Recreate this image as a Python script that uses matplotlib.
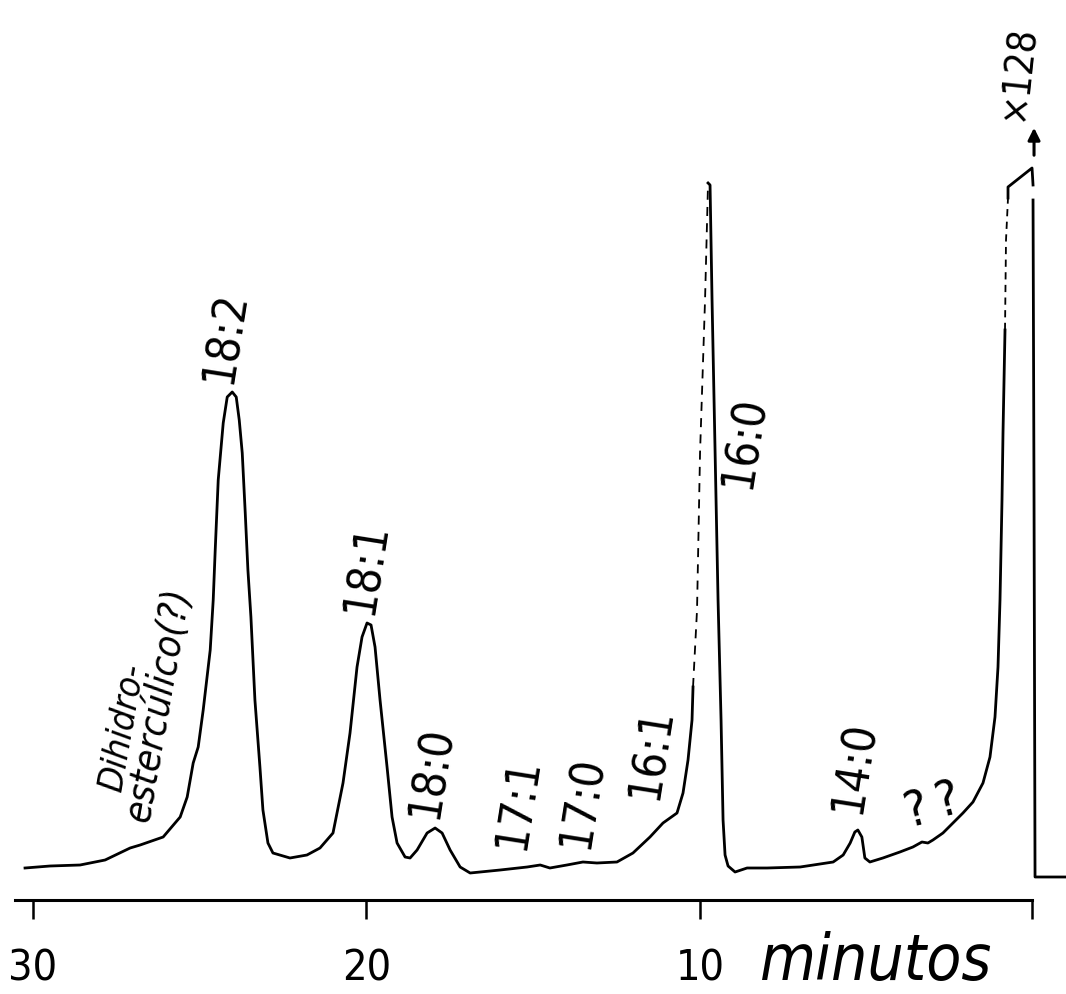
import matplotlib
matplotlib.use("Agg")
import matplotlib.pyplot as plt
from matplotlib import rcParams

# chromatogram trace (minutes, pen height)
time_min = [30.23, 29.48, 28.58, 27.83, 27.08, 26.78, 26.09, 25.58, 25.37, 25.19,
            25.04, 24.89, 24.68, 24.59, 24.53, 24.44, 24.29, 24.17, 24.02, 23.90,
            23.81, 23.72, 23.63, 23.55, 23.46, 23.34, 23.19, 23.10, 22.95, 22.80,
            22.29, 21.78, 21.39, 21.00, 20.70, 20.49, 20.28, 20.13, 19.98, 19.86,
            19.74, 19.59, 19.38, 19.23, 19.08, 18.84, 18.69, 18.48, 18.18, 17.94,
            17.73, 17.49, 17.19, 16.89, 15.99, 15.18, 14.79, 14.50, 13.99, 13.51,
            13.09, 12.49, 12.01, 11.50, 11.11, 10.69, 10.51, 10.36, 10.24, 10.21,
            10.09, 10.00, 9.85, 9.76, 9.70, 9.64, 9.55, 9.46, 9.37, 9.31,
            9.25, 9.16, 8.95, 8.59, 7.99, 7.00, 6.01, 5.71, 5.50, 5.36,
            5.27, 5.15, 5.06, 4.91, 4.52, 4.01, 3.62, 3.35, 3.17, 3.02,
            2.72, 2.42, 2.12, 1.82, 1.52, 1.31, 1.16, 1.07, 1.01, 0.95,
            0.92, 0.86, 0.83, 0.77, 0.77, 0.05, 0.02]
signal = [32, 34, 35, 40, 52, 55, 63, 83, 103, 137,
          153, 190, 250, 300, 350, 420, 477, 503, 508, 503,
          480, 447, 387, 330, 283, 200, 133, 90, 57, 47,
          42, 45, 52, 67, 117, 167, 233, 263, 277, 275,
          253, 200, 133, 83, 57, 43, 42, 50, 67, 72,
          67, 50, 33, 27, 30, 33, 35, 32, 35, 38,
          37, 38, 47, 63, 77, 87, 107, 140, 180, 213,
          290, 447, 600, 717, 715, 600, 450, 300, 180, 80,
          45, 34, 28, 32, 32, 33, 38, 45, 57, 68,
          70, 63, 42, 38, 42, 48, 53, 58, 57, 60,
          67, 77, 87, 98, 117, 143, 183, 233, 300, 400,
          467, 570, 660, 702, 713, 732, 715]

# pen coming back down after the solvent went off scale
return_time = [0.02, -0.01, -0.04, -0.97]
return_signal = [700, 400, 23, 23]

# off-scale arrow (attenuation x128)
arrow_time = [-0.01, -0.01]
arrow_signal = [742, 775]

peak_names = ["18:2", "18:1", "18:0", "17:1", "17:0", "16:1", "16:0", "14:0", "?", "?"]
peak_label_time = [24.20, 19.98, 18.03, 15.45, 13.50, 11.44, 8.65, 5.36, 3.50, 2.57]
peak_label_signal = [563, 332, 128, 97, 98, 147, 458, 133, 90, 100]

tick_values = [30, 20, 10]
tick_labels = ["30", "20", "10"]

rcParams['font.family'] = ['DejaVu Sans']
rcParams['font.stretch'] = 'condensed'

fig = plt.figure(figsize=(10.66, 9.94), dpi=100)
ax = fig.add_axes([0, 0, 1, 1])
ax.set_xlim(30.98, -0.968)
ax.set_ylim(-94, 900)

# trace, fast pen strokes drawn faint/dashed like on the original
ax.plot(time_min[0:70], signal[0:70], color="black", lw=2.0, solid_joinstyle="round")
ax.plot(time_min[69:74], signal[69:74], color="black", lw=1.3, ls=(0, (5, 4)))
ax.plot(time_min[73:112], signal[73:112], color="black", lw=2.0, solid_joinstyle="round")
ax.plot(time_min[111:114], signal[111:114], color="black", lw=1.3, ls=(0, (4, 3)))
ax.plot(time_min[113:], signal[113:], color="black", lw=2.0)
ax.plot(return_time, return_signal, color="black", lw=2.0)
ax.annotate("", xy=(arrow_time[1], arrow_signal[1]), xytext=(arrow_time[0], arrow_signal[0]),
            arrowprops=dict(arrowstyle="-|>", color="black", lw=2.2, mutation_scale=18))

# axis
for side in ["top", "left", "right"]:
    ax.spines[side].set_visible(False)
ax.spines["bottom"].set_position(("data", 0))
ax.spines["bottom"].set_bounds(0.05, 30.53)
ax.spines["bottom"].set_linewidth(2.2)
ax.set_yticks([])
ax.set_xticks(tick_values + [0.05])
ax.set_xticklabels(tick_labels + [""])
ax.tick_params(axis="x", direction="out", length=14, width=1.8, pad=20, labelsize=31)

ax.text(8.20, -80, "minutos", fontsize=46, style="italic", ha="left", va="baseline")

# peak names
for name, t, s in zip(peak_names, peak_label_time, peak_label_signal):
    if name == "?":
        ax.text(t, s, name, fontsize=36, rotation=15, ha="center", va="center")
    else:
        ax.text(t, s, name, fontsize=33, rotation=81, ha="center", va="center",
                rotation_mode="anchor")

ax.text(27.32, 172, "Dihidro-", fontsize=26, style="italic", rotation=80,
        ha="center", va="center", rotation_mode="anchor")
ax.text(26.24, 195, "estercúlico(?)", fontsize=28, style="italic", rotation=80,
        ha="center", va="center", rotation_mode="anchor")
ax.text(0.47, 827, "×128", fontsize=28, rotation=84, ha="center", va="center",
        rotation_mode="anchor")

fig.savefig("out.png", dpi=100)
